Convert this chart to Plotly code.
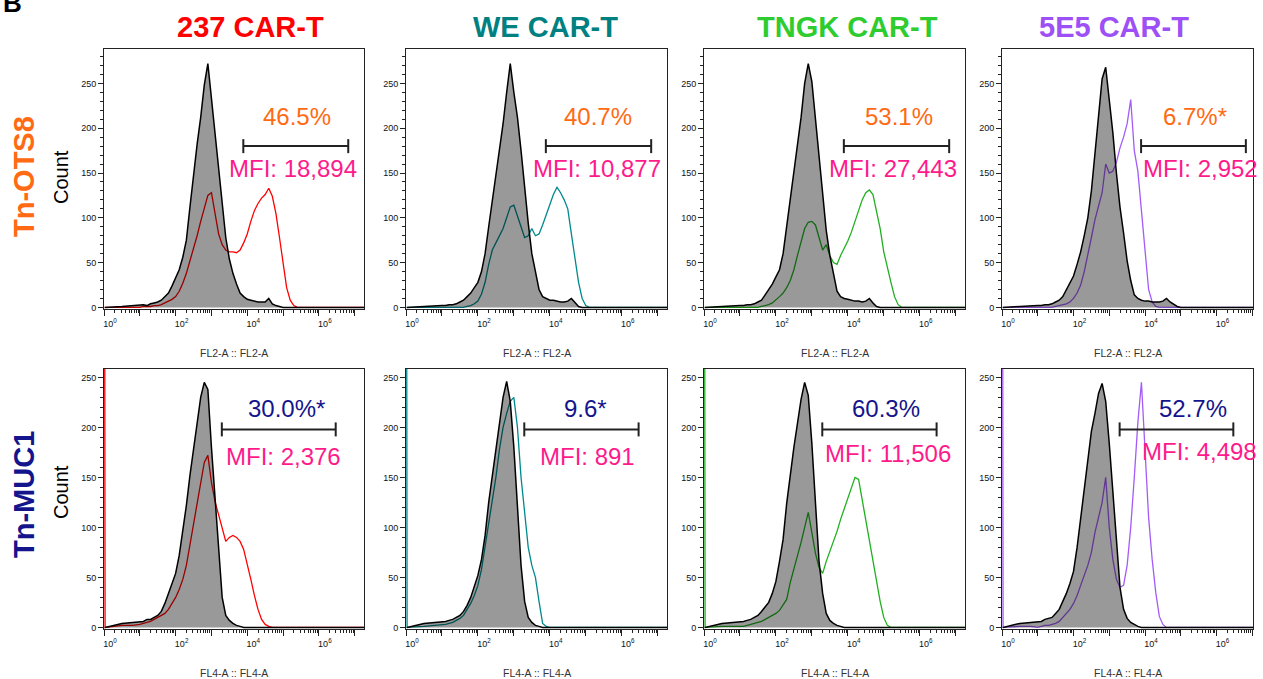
import plotly.graph_objects as go

# ---------------- data ----------------
# histogram bin positions, log10 of fluorescence (first bin collects off-scale low events)
BIN_LOG10 = [0.02, 0.03, 0.5, 0.8, 1.0, 1.1, 1.2, 1.3, 1.4, 1.5, 1.6, 1.7, 1.8, 1.9,
             2.0, 2.1, 2.2, 2.3, 2.4, 2.5, 2.6, 2.7, 2.8, 2.9,
             3.0, 3.1, 3.2, 3.3, 3.4, 3.5, 3.6, 3.7, 3.8, 3.9,
             4.0, 4.1, 4.2, 4.3, 4.4, 4.5, 4.6, 4.7, 4.8, 4.9,
             5.0, 5.1, 5.2, 5.3, 5.4, 5.5, 6.0, 7.3]

COLUMNS = ["237 CAR-T", "WE CAR-T", "TNGK CAR-T", "5E5 CAR-T"]
ROWS = ["Tn-OTS8", "Tn-MUC1"]
X_TITLES = ["FL2-A :: FL2-A", "FL4-A :: FL4-A"]

# Tn-OTS8 row
CTRL_237_OTS8 = [0, 0,1,2, 2,3,2,4,5,6,8,12,16,24, 34,42,56,75,112,150,182,212,248,272,
                 232,196,160,112,78,54,38,26,16,12, 9,8,7,6,6,6,10,4,2,1, 0,0,0,0,0,0, 0,0]
CAR_237_OTS8 = [0, 0,0,0, 0,1,1,1,2,2,3,5,7,9, 12,18,27,38,52,65,80,96,112,125,
                128,103,82,70,64,62,62,61,64,72, 82,96,108,116,122,126,133,124,105,78, 50,22,8,2,0,0, 0,0]
CTRL_WE_OTS8 = [0, 0,1,2, 2,2,3,3,4,6,8,12,16,22, 28,40,60,90,118,145,172,205,240,272,
                240,212,175,130,94,60,38,20,12,10, 8,8,7,6,6,7,10,5,1,0, 0,0,0,0,0,0, 0,0]
CAR_WE_OTS8 = [0, 0,0,0, 0,0,0,0,0,0,0,1,2,4, 7,15,28,48,64,72,80,88,100,112,
               114,102,88,78,80,88,80,82,92,104, 116,126,134,128,120,110,82,55,28,10, 2,0,0,0,0,0, 0,0]
CTRL_TNGK_OTS8 = [0, 0,1,2, 2,2,3,3,4,6,8,14,20,26, 34,42,60,90,120,150,178,212,250,272,
                  252,210,170,125,86,58,38,18,12,10, 9,8,7,7,6,7,10,5,1,0, 0,0,0,0,0,0, 0,0]
CAR_TNGK_OTS8 = [0, 0,0,0, 0,0,0,0,0,0,1,2,3,5, 8,12,16,22,30,42,58,72,88,95,
                 96,92,78,64,70,58,50,48,58,66, 74,84,96,108,120,128,131,126,108,88, 62,44,28,12,3,0, 0,0]
CTRL_5E5_OTS8 = [0, 0,1,2, 2,2,3,3,4,6,8,12,20,28, 35,48,62,80,100,130,170,210,255,268,
                 232,195,150,112,83,52,30,14,10,8, 7,7,6,6,6,7,10,6,3,1, 0,0,0,0,0,0, 0,0]
CAR_5E5_OTS8 = [0, 0,0,0, 0,0,0,0,0,1,2,3,4,6, 10,16,25,40,58,78,98,112,128,160,
                150,152,162,178,190,205,232,175,152,108, 62,20,6,1,0,0,0,0,0,0, 0,0,0,0,0,0, 0,0]

# Tn-MUC1 row
CTRL_237_MUC1 = [0, 0,4,5, 5,6,8,8,10,12,16,24,34,44, 54,72,95,122,152,178,205,230,245,238,
                 180,130,75,30,12,7,4,2,1,0, 0,0,0,0,0,0,0,0,0,0, 0,0,0,0,0,0, 0,0]
CAR_237_MUC1 = [300, 0,2,2, 3,4,5,6,8,10,12,14,18,24, 30,38,48,62,82,104,124,145,165,172,
                145,126,112,98,86,90,92,90,86,78, 64,48,32,18,8,3,1,0,0,0, 0,0,0,0,0,0, 0,0]
CTRL_WE_MUC1 = [0, 0,4,5, 5,6,7,8,10,12,16,22,30,40, 52,68,92,125,152,178,205,230,246,226,
                180,122,62,26,10,5,2,1,0,0, 0,0,0,0,0,0,0,0,0,0, 0,0,0,0,0,0, 0,0]
CAR_WE_MUC1 = [300, 0,1,2, 2,3,4,5,7,9,12,18,24,32, 42,58,80,106,128,150,178,200,214,226,
               230,200,150,112,80,62,50,26,4,1, 0,0,0,0,0,0,0,0,0,0, 0,0,0,0,0,0, 0,0]
CTRL_TNGK_MUC1 = [0, 0,4,5, 5,6,7,8,10,12,16,20,25,34, 46,66,88,124,155,180,204,228,245,232,
                  184,120,66,34,14,7,4,2,1,0, 0,0,0,0,0,0,0,0,0,0, 0,0,0,0,0,0, 0,0]
CAR_TNGK_MUC1 = [300, 0,1,1, 1,1,2,3,4,5,6,8,10,12, 14,17,22,28,45,58,70,85,100,115,
                 95,74,60,54,66,76,84,96,108,118, 128,140,150,148,128,108,88,64,44,26, 10,2,0,0,0,0, 0,0]
CTRL_5E5_MUC1 = [0, 0,4,5, 5,6,8,9,10,14,18,26,34,44, 56,80,110,138,170,196,214,234,244,226,
                 184,134,80,40,18,9,5,3,1,0, 0,0,0,0,0,0,0,0,0,0, 0,0,0,0,0,0, 0,0]
CAR_5E5_MUC1 = [300, 0,1,1, 0,1,2,2,3,4,6,10,14,18, 24,32,42,52,62,75,95,110,125,150,
                100,68,48,40,42,62,100,150,205,245, 175,110,68,35,11,3,0,0,0,0, 0,0,0,0,0,0, 0,0]

# gate percentages and MFI values
PCT_OTS8 = ["46.5%", "40.7%", "53.1%", "6.7%*"]
MFI_OTS8 = ["MFI: 18,894", "MFI: 10,877", "MFI: 27,443", "MFI: 2,952"]
PCT_MUC1 = ["30.0%*", "9.6*", "60.3%", "52.7%"]
MFI_MUC1 = ["MFI: 2,376", "MFI: 891", "MFI: 11,506", "MFI: 4,498"]

# gate bar extent (log10) and height (count)
GATE_OTS8 = [3.89, 6.82, 180]
GATE_MUC1 = [3.29, 6.47, 198]

# ---------------- styling / layout ----------------
W, H = 1263, 679
FONT = "Liberation Sans, Arial, sans-serif"
TITLE_COLORS = ["#FF0000", "#008080", "#2ECC2E", "#9C50F5"]
LINE_COLORS = ["#FF0000", "#00898C", "#1FB01F", "#A35CF6"]
ROW_COLORS = ["#FF6A13", "#14148C"]
PCT_COLORS = ["#FF6A13", "#14148C"]
MFI_COLOR = "#FF1A8C"

COL_PX = [(104, 364), (406, 667), (704, 965), (1002, 1253)]
ROW_PX = [(49, 309), (369, 629)]
X_MAX = [7.26, 7.26, 7.26, 7.02]
Y_RANGES = [[-1.8, 288.4], [-1.6, 258.4]]
TITLE_X = [251, 545, 847, 1114]

# text positions (log10 x, count y)
PCT_POS = [[(5.40, 213), (5.35, 213), (5.42, 213), (5.40, 213)],
           [(5.09, 219), (5.00, 219), (5.05, 219), (5.33, 219)]]
MFI_POS = [[(5.27, 155), (5.32, 155), (5.26, 155), (5.55, 155)],
           [(5.01, 171), (5.04, 171), (5.11, 174), (5.53, 176)]]

panels = [
    [(CTRL_237_OTS8, CAR_237_OTS8), (CTRL_WE_OTS8, CAR_WE_OTS8),
     (CTRL_TNGK_OTS8, CAR_TNGK_OTS8), (CTRL_5E5_OTS8, CAR_5E5_OTS8)],
    [(CTRL_237_MUC1, CAR_237_MUC1), (CTRL_WE_MUC1, CAR_WE_MUC1),
     (CTRL_TNGK_MUC1, CAR_TNGK_MUC1), (CTRL_5E5_MUC1, CAR_5E5_MUC1)],
]
pcts = [PCT_OTS8, PCT_MUC1]
mfis = [MFI_OTS8, MFI_MUC1]
gates = [GATE_OTS8, GATE_MUC1]

xs = [10 ** v for v in BIN_LOG10]

major_x = [10 ** k for k in range(0, 8)]
major_text = ["10<sup>0</sup>", "", "10<sup>2</sup>", "", "10<sup>4</sup>", "", "10<sup>6</sup>", ""]
minor_x = [m * 10 ** k for k in range(0, 8) for m in range(2, 10)]

fig = go.Figure()
annotations = []
layout_axes = {}

for r in range(2):
    for c in range(4):
        idx = r * 4 + c + 1
        xa = "x" if idx == 1 else f"x{idx}"
        ya = "y" if idx == 1 else f"y{idx}"
        ctrl, car = panels[r][c]
        # CAR-T histogram (line)
        fig.add_trace(go.Scatter(x=xs, y=car, mode="lines", xaxis=xa, yaxis=ya,
                                 line=dict(color=LINE_COLORS[c], width=1.3),
                                 showlegend=False, hoverinfo="skip"))
        # control histogram (gray fill)
        fig.add_trace(go.Scatter(x=xs, y=ctrl, mode="lines", xaxis=xa, yaxis=ya,
                                 fill="tozeroy", fillcolor="rgba(0,0,0,0.40)",
                                 line=dict(color="#000000", width=1.5),
                                 showlegend=False, hoverinfo="skip"))
        # gate bar
        g = gates[r]
        fig.add_trace(go.Scatter(x=[10 ** g[0], 10 ** g[1]], y=[g[2], g[2]],
                                 mode="lines+markers", xaxis=xa, yaxis=ya,
                                 line=dict(color="#222222", width=2),
                                 marker=dict(symbol="line-ns", size=10,
                                             line=dict(width=2, color="#222222")),
                                 showlegend=False, hoverinfo="skip"))
        x0, x1 = COL_PX[c]
        y0, y1 = ROW_PX[r]
        xkey = "xaxis" if idx == 1 else f"xaxis{idx}"
        ykey = "yaxis" if idx == 1 else f"yaxis{idx}"
        layout_axes[xkey] = dict(
            type="log", range=[0, X_MAX[c]], domain=[x0 / W, x1 / W], anchor=ya,
            automargin=False,
            showline=True, linecolor="#222222", linewidth=1, mirror=True,
            showgrid=False, zeroline=False,
            ticks="outside", ticklen=6, tickwidth=1, tickcolor="#222222",
            tickmode="array", tickvals=major_x, ticktext=major_text,
            ticklabelshift=6,
            tickfont=dict(family=FONT, size=9, color="#111111"),
            minor=dict(tickmode="array", tickvals=minor_x, ticks="outside",
                       ticklen=3, tickwidth=1, tickcolor="#222222", showgrid=False),
        )
        layout_axes[ykey] = dict(
            range=Y_RANGES[r], domain=[1 - y1 / H, 1 - y0 / H], anchor=xa,
            automargin=False,
            showline=True, linecolor="#222222", linewidth=1, mirror=True,
            showgrid=False, zeroline=False,
            ticks="outside", ticklen=5, tickwidth=1, tickcolor="#222222",
            tickmode="array", tickvals=[0, 50, 100, 150, 200, 250],
            tickfont=dict(family=FONT, size=9, color="#111111"),
            minor=dict(dtick=10, ticks="outside", ticklen=3, tickwidth=1,
                       tickcolor="#222222", showgrid=False),
        )
        # percentage text
        px_, py_ = PCT_POS[r][c]
        annotations.append(dict(x=px_, y=py_, xref=xa, yref=ya, text=pcts[r][c],
                                showarrow=False, xanchor="center", yanchor="middle",
                                font=dict(family=FONT, size=24, color=PCT_COLORS[r])))
        mx_, my_ = MFI_POS[r][c]
        annotations.append(dict(x=mx_, y=my_, xref=xa, yref=ya, text=mfis[r][c],
                                showarrow=False, xanchor="center", yanchor="middle",
                                font=dict(family=FONT, size=24, color=MFI_COLOR)))
        # x axis title
        annotations.append(dict(x=(x0 + x1) / 2 / W, y=1 - (y1 + 44) / H,
                                xref="paper", yref="paper", text=X_TITLES[r],
                                showarrow=False, xanchor="center", yanchor="middle",
                                font=dict(family=FONT, size=10.5, color="#333333")))

# column titles
for c in range(4):
    annotations.append(dict(x=TITLE_X[c] / W, y=1 - 27 / H, xref="paper", yref="paper",
                            text=f"<b>{COLUMNS[c]}</b>", showarrow=False,
                            xanchor="center", yanchor="middle",
                            font=dict(family=FONT, size=29, color=TITLE_COLORS[c])))

# row labels and Count labels
ROW_LABEL_Y = [177, 495]
COUNT_Y = [177, 492]
for r in range(2):
    annotations.append(dict(x=24 / W, y=1 - ROW_LABEL_Y[r] / H, xref="paper", yref="paper",
                            text=f"<b>{ROWS[r]}</b>", showarrow=False, textangle=-90,
                            xanchor="center", yanchor="middle",
                            font=dict(family=FONT, size=29, color=ROW_COLORS[r])))
    annotations.append(dict(x=61 / W, y=1 - COUNT_Y[r] / H, xref="paper", yref="paper",
                            text="Count", showarrow=False, textangle=-90,
                            xanchor="center", yanchor="middle",
                            font=dict(family=FONT, size=20, color="#000000")))

# panel letter
annotations.append(dict(x=1 / W, y=1 - 3 / H, xref="paper", yref="paper",
                        text="<b>B</b>", showarrow=False, xanchor="left", yanchor="middle",
                        font=dict(family=FONT, size=26, color="#000000")))

fig.update_layout(
    template="plotly_white",
    width=W, height=H, margin=dict(l=0, r=0, t=0, b=0, autoexpand=False),
    paper_bgcolor="white", plot_bgcolor="white",
    annotations=annotations, showlegend=False,
    **layout_axes,
)

fig.write_html(
    "out.html",
    config={"displayModeBar": False},
    post_script="document.body.style.margin='0';document.body.style.overflow='hidden';",
)
